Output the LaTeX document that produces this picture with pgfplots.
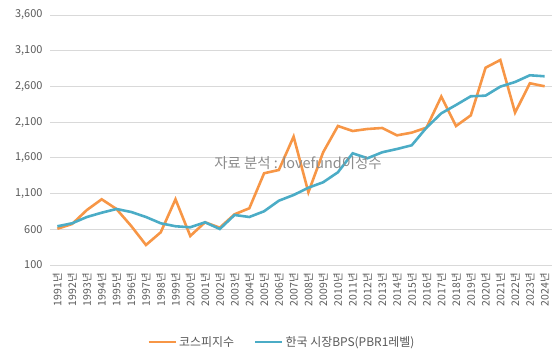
\documentclass[border=0pt]{standalone}
\usepackage{fontspec}
\setmainfont{Noto Sans CJK KR}
\usepackage{pgfplots}
\pgfplotsset{compat=1.18}
\definecolor{kospi}{HTML}{F79646}
\definecolor{bps}{HTML}{4BACC6}
\definecolor{gridc}{HTML}{D9D9D9}
\definecolor{txt}{HTML}{595959}
\begin{document}
\begin{tikzpicture}
\begin{axis}[
  scale only axis,
  width=502bp, height=250bp,
  xmin=-0.5, xmax=33.5,
  ymin=100, ymax=3600,
  ytick={100,600,1100,1600,2100,2600,3100,3600},
  xtick={0,...,33},
  xticklabels={1991년,1992년,1993년,1994년,1995년,1996년,1997년,1998년,1999년,2000년,2001년,2002년,2003년,2004년,2005년,2006년,2007년,2008년,2009년,2010년,2011년,2012년,2013년,2014년,2015년,2016년,2017년,2018년,2019년,2020년,2021년,2022년,2023년,2024년},
  xticklabel shift=7bp,
  yticklabel shift=4bp,
  x tick label style={rotate=90, anchor=east, font=\fontsize{10.5}{11}\selectfont, text=txt, inner sep=1bp},
  y tick label style={font=\fontsize{11}{12}\selectfont, text=txt},
  /pgf/number format/assume math mode=true,
  /pgf/number format/1000 sep={,},
  scaled y ticks=false,
  ymajorgrids, grid style={gridc, line width=0.8pt},
  major tick length=0pt,
  axis lines*=left,
  x axis line style={gridc, line width=0.8pt, -},
  y axis line style={draw=none},
  legend columns=2,
  legend style={at={(0.462,-0.308)}, anchor=center, draw=none, font=\fontsize{12}{13}\selectfont, text=txt, /tikz/every even column/.append style={column sep=18bp}},
  legend image code/.code={\draw[#1, line width=2.6pt] (0bp,0bp) -- (27bp,0bp);},
]
\addplot[kospi, line width=2.6pt, no markers] coordinates {
(0,608) (1,674) (2,870) (3,1020) (4,884) (5,646) (6,380) (7,558) (8,1020) (9,506)
(10,698) (11,622) (12,810) (13,894) (14,1384) (15,1430) (16,1897) (17,1118) (18,1678) (19,2046)
(20,1976) (21,2004) (22,2018) (23,1915) (24,1953) (25,2023) (26,2457) (27,2046) (28,2195) (29,2862)
(30,2970) (31,2233) (32,2644) (33,2602)};
\addlegendentry{코스피지수}
\addplot[bps, line width=2.6pt, no markers] coordinates {
(0,642) (1,684) (2,772) (3,832) (4,884) (5,842) (6,772) (7,684) (8,642) (9,628)
(10,698) (11,604) (12,800) (13,772) (14,852) (15,1000) (16,1080) (17,1182) (18,1258) (19,1398)
(20,1664) (21,1594) (22,1678) (23,1724) (24,1776) (25,2023) (26,2223) (27,2340) (28,2462) (29,2471)
(30,2597) (31,2662) (32,2756) (33,2742)};
\addlegendentry{한국 시장BPS(PBR1레벨)}
\node[text=gray!90, font=\fontsize{14.5}{16}\selectfont] at (axis cs:16.3,1520) {자료 분석 : lovefund이성수};
\end{axis}
\pgfresetboundingbox
\useasboundingbox ([xshift=-50bp,yshift=-89bp]current axis.south west) rectangle ([xshift=6bp,yshift=15bp]current axis.north east);
\end{tikzpicture}
\end{document}
